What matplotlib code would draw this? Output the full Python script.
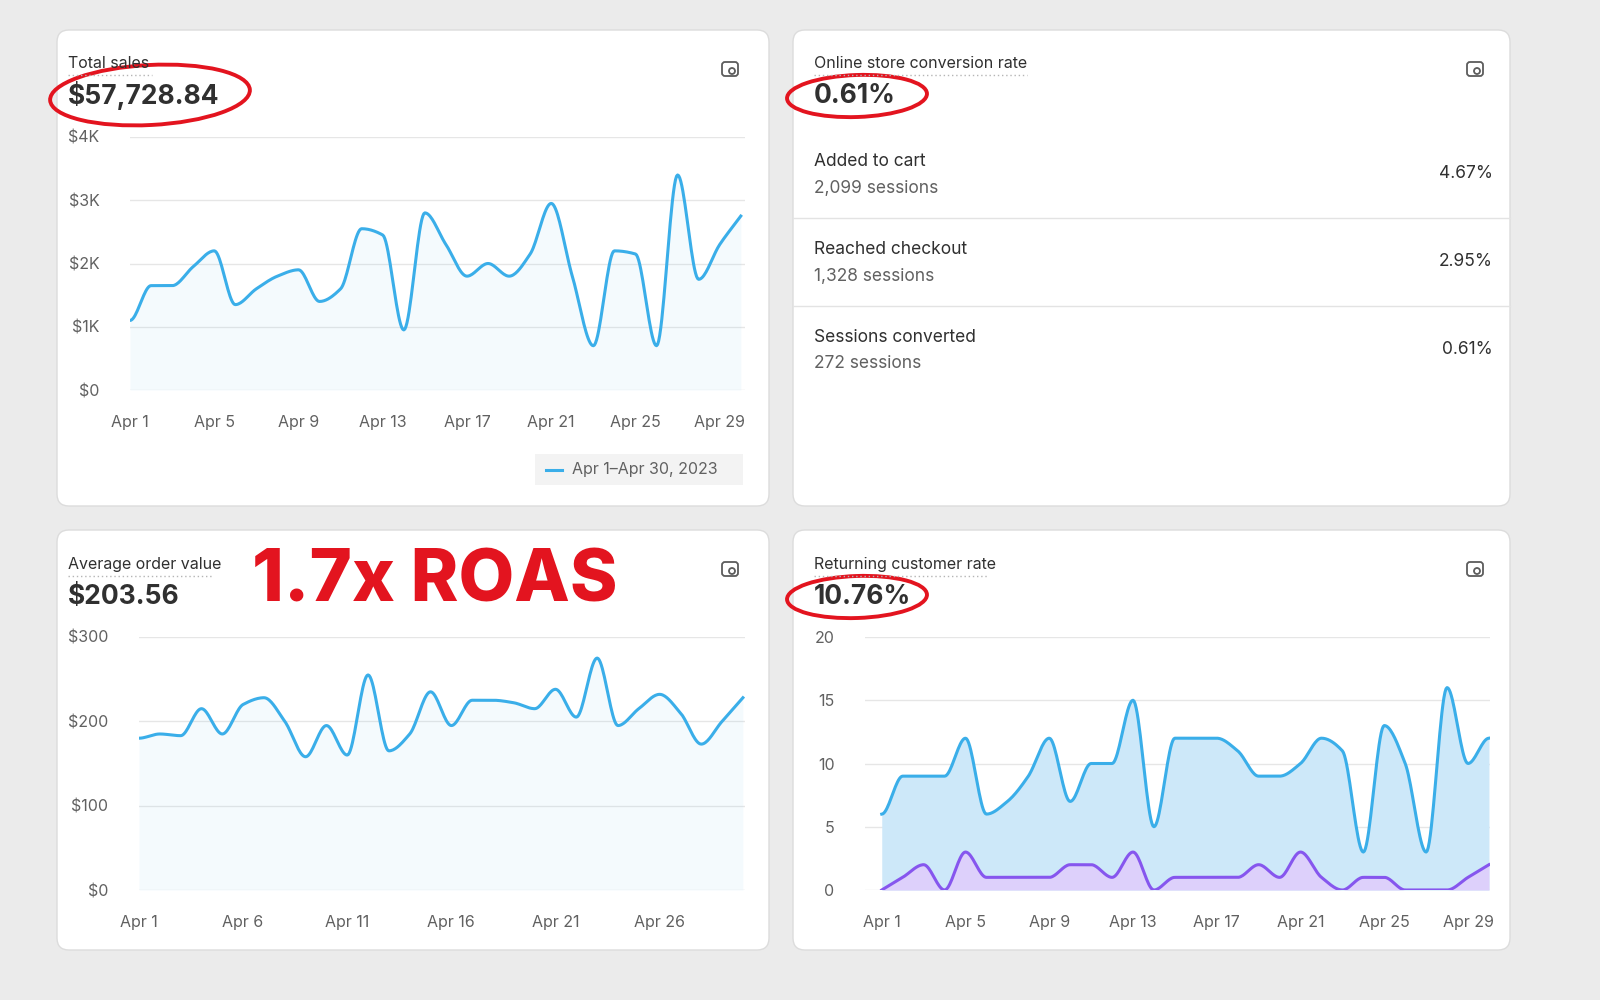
import matplotlib.pyplot as plt
import numpy as np
from matplotlib.patches import FancyBboxPatch, Ellipse, Rectangle

plt.rcParams['font.family'] = ['Inter', 'DejaVu Sans']

days = np.arange(1, 31)
sales = [1100, 1650, 1650, 1950, 2200, 1350, 1600, 1800, 1900, 1400, 1600, 2550, 2450, 950, 2800,
         2300, 1800, 2000, 1800, 2150, 2950, 1800, 700, 2200, 2150, 700, 3400, 1750, 2300, 2750]
aov = [180, 185, 183, 215, 185, 220, 228, 200, 158, 195, 160, 255, 165, 185, 235,
       195, 225, 225, 222, 215, 238, 205, 275, 195, 215, 232, 210, 173, 200, 228]
ret_blue = [6, 9, 9, 9, 12, 6, 7, 9, 12, 7, 10, 10, 15, 5, 12,
            12, 12, 11, 9, 9, 10, 12, 11, 3, 13, 10, 3, 16, 10, 12]
ret_purple = [0, 1, 2, 0, 3, 1, 1, 1, 1, 2, 2, 1, 3, 0, 1,
              1, 1, 1, 2, 1, 3, 1, 0, 1, 1, 0, 0, 0, 1, 2]
funnel = [("Added to cart", "2,099 sessions", "4.67%"),
          ("Reached checkout", "1,328 sessions", "2.95%"),
          ("Sessions converted", "272 sessions", "0.61%")]

BLUE = '#3aaee9'
PURPLE = '#8656ee'
TXT = '#303030'
GREY = '#616161'


def pchip(x, y, n=20):
    # monotone cubic for drawing the smooth line
    x = np.asarray(x, float); y = np.asarray(y, float)
    h = np.diff(x); d = np.diff(y) / h
    m = np.zeros_like(y)
    for i in range(1, len(y) - 1):
        if d[i - 1] * d[i] > 0:
            m[i] = 2 / (1 / d[i - 1] + 1 / d[i])
    m[0] = d[0] if d[0] * d[1] > 0 else 0
    m[-1] = d[-1] if d[-1] * d[-2] > 0 else 0
    xs, ys = [], []
    for i in range(len(h)):
        t = np.linspace(0, 1, n, endpoint=False)
        h00 = 2 * t**3 - 3 * t**2 + 1; h10 = t**3 - 2 * t**2 + t
        h01 = -2 * t**3 + 3 * t**2; h11 = t**3 - t**2
        xs.append(x[i] + t * h[i])
        ys.append(h00 * y[i] + h10 * h[i] * m[i] + h01 * y[i + 1] + h11 * h[i] * m[i + 1])
    xs.append([x[-1]]); ys.append([y[-1]])
    return np.concatenate(xs), np.concatenate(ys)


fig = plt.figure(figsize=(16, 10), dpi=100)
fig.patch.set_facecolor('#ebebeb')
bg = fig.add_axes([0, 0, 1, 1], zorder=0)
bg.set_xlim(0, 1600); bg.set_ylim(1000, 0); bg.axis('off')

for (x0, y0, x1, y1) in [(57, 30, 769, 506), (793, 30, 1510, 506), (57, 530, 769, 950), (793, 530, 1510, 950)]:
    bg.add_patch(FancyBboxPatch((x0, y0), x1 - x0, y1 - y0, boxstyle='round,pad=0,rounding_size=12',
                                fc='white', ec='#dcdcdc', lw=1))


def px_axes(l, t, r, b):
    return fig.add_axes([l / 1600, 1 - b / 1000, (r - l) / 1600, (b - t) / 1000], zorder=1)


def style(ax, ylim, yticks, ylabels, xticks, pad):
    ax.set_facecolor('none')
    ax.set_ylim(*ylim)
    ax.set_yticks(yticks, ylabels)
    ax.set_xticks(xticks, [f'Apr {d}' for d in xticks])
    for s in ax.spines.values():
        s.set_visible(False)
    ax.tick_params(length=0, labelsize=11.5, labelcolor=GREY)
    ax.tick_params(axis='y', pad=pad)
    ax.tick_params(axis='x', pad=18)
    ax.grid(axis='y', color='#e6e6e6', lw=1)
    ax.set_axisbelow(True)


# total sales
ax1 = px_axes(130, 137, 745, 390)
sx, sy = pchip(days, sales)
ax1.plot(sx, sy, color=BLUE, lw=2.2)
ax1.fill_between(sx, sy, color=BLUE, alpha=0.05, lw=0)
ax1.set_xlim(1, 30.2)
style(ax1, (0, 4000), [0, 1000, 2000, 3000, 4000], ['$0', '$1K', '$2K', '$3K', '$4K'], [1, 5, 9, 13, 17, 21, 25, 29], 22)

# average order value
ax2 = px_axes(139, 637, 745, 890)
ax_, ay = pchip(days, aov)
ax2.plot(ax_, ay, color=BLUE, lw=2.2)
ax2.fill_between(ax_, ay, color=BLUE, alpha=0.05, lw=0)
ax2.set_xlim(1, 30.1)
style(ax2, (0, 300), [0, 100, 200, 300], ['$0', '$100', '$200', '$300'], [1, 6, 11, 16, 21, 26], 22)

# returning customer rate
ax3 = px_axes(865, 637, 1490, 890)
bx, by = pchip(days, ret_blue)
px_, py = pchip(days, ret_purple)
ax3.fill_between(bx, by, color='#cde8f9', lw=0)
ax3.fill_between(px_, py, color='#ddd0fb', lw=0)
ax3.plot(bx, by, color=BLUE, lw=2.2)
ax3.plot(px_, py, color=PURPLE, lw=2.2)
ax3.set_xlim(0.2, 30.05)
style(ax3, (0, 20), [0, 5, 10, 15, 20], ['0', '5', '10', '15', '20'], [1, 5, 9, 13, 17, 21, 25, 29], 22)

ov = fig.add_axes([0, 0, 1, 1], zorder=2)
ov.set_xlim(0, 1600); ov.set_ylim(1000, 0); ov.axis('off'); ov.patch.set_visible(False)

def title(x, y, s, v):
    ov.text(x, y, s, fontsize=11.5, color=TXT, va='center')
    ov.plot([x, x + len(s) * 7.6], [y + 12, y + 12], color='#b5b5b5', lw=1, ls=(0, (1, 2)))
    ov.text(x, y + 33, v, fontsize=19, fontweight='bold', color=TXT, va='center')

title(68, 63, 'Total sales', '$57,728.84')
title(814, 63, 'Online store conversion rate', '0.61%')
title(68, 564, 'Average order value', '$203.56')
title(814, 564, 'Returning customer rate', '10.76%')

for (ix, iy) in [(730, 69), (1475, 69), (730, 569), (1475, 569)]:
    ov.add_patch(FancyBboxPatch((ix - 8, iy - 7), 16, 14, boxstyle='round,pad=0,rounding_size=3',
                                fc='none', ec='#5c5c5c', lw=1.3))
    ov.add_patch(Ellipse((ix + 2, iy + 2), 6, 6, fc='white', ec='#5c5c5c', lw=1.3))

# funnel rows
for i, (name, sess, pct) in enumerate(funnel):
    y = 161 + i * 88
    ov.text(814, y, name, fontsize=12.5, color=TXT, va='center')
    ov.text(814, y + 27, sess, fontsize=12.5, color=GREY, va='center')
    ov.text(1493, y + 13, pct, fontsize=12.5, color=TXT, va='center', ha='right')
for y in [218, 306]:
    ov.plot([793, 1510], [y, y], color='#e3e3e3', lw=1)

# legend chip
ov.add_patch(Rectangle((535, 454), 208, 31, fc='#f3f3f3', ec='none'))
ov.plot([546, 562], [469.5, 469.5], color=BLUE, lw=2.2)
ov.text(572, 469.5, 'Apr 1\u2013Apr 30, 2023', fontsize=11.5, color=GREY, va='center')

# annotations
RED = '#e3141f'
ov.text(252, 582, '1.7x ROAS', fontsize=52, fontweight='heavy', color=RED, va='center')
for (cx, cy, w, h, a) in [(150, 95, 200, 60, -3), (857, 96, 140, 42, -2), (857, 597, 140, 42, -2)]:
    ov.add_patch(Ellipse((cx, cy), w, h, angle=a, fc='none', ec=RED, lw=2.8))

fig.savefig('out.png', dpi=100, facecolor=fig.get_facecolor())
